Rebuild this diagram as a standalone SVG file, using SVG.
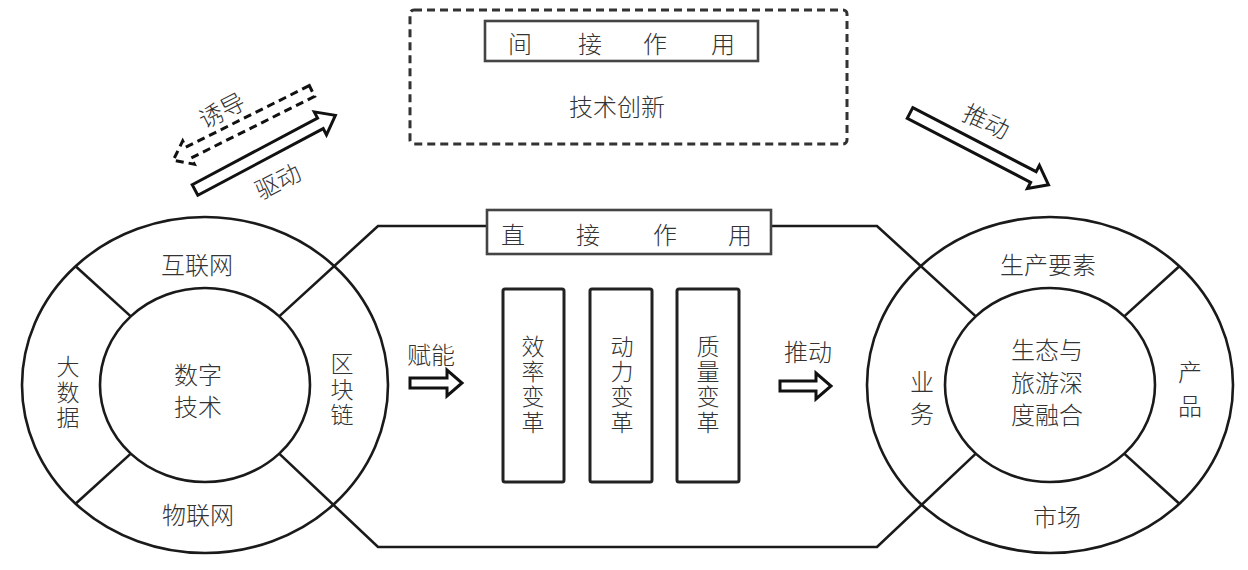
<svg xmlns="http://www.w3.org/2000/svg" width="1248" height="570" viewBox="0 0 1248 570">
<style>
  text { font-family: "Noto Sans CJK SC", "Noto Sans", sans-serif; font-size: 24px; fill: #333; text-anchor: middle; dominant-baseline: central; font-weight: 300; }
  .v { font-size: 23px; writing-mode: vertical-rl; text-orientation: upright; letter-spacing: 2.3px; }
  .ln { fill: none; stroke: #1a1a1a; stroke-width: 2.6; }
  .box { fill: #fff; stroke: #222; stroke-width: 3; }
  .lbl { fill: #fff; stroke: #444; stroke-width: 2.6; }
  .arr { fill: #fff; stroke: #111; stroke-width: 3; stroke-linejoin: miter; }
  .darr { fill: #fff; stroke: #111; stroke-width: 3; stroke-dasharray: 8 5; }
</style>
<rect width="1248" height="570" fill="#fff"/>

<g id="connectors">
  <path class="ln" d="M279.2,316.4 L378,226 L877,226 L975.8,316.4"/>
  <path class="ln" d="M279.2,453.6 L378,547 L877,547 L975.8,453.6"/>
  <polygon class="arr" points="410,378 447,378 447,370 462,383 447,396 447,388 410,388"/>
  <polygon class="arr" points="780,381 816,381 816,373 831,386 816,399 816,391 780,391"/>
  <g transform="translate(195,190) rotate(-28)">
    <polygon class="arr" points="0,-6 142,-6 142,-13 159,0 142,13 142,6 0,6"/>
  </g>
  <g transform="translate(312,91) rotate(-26.5)">
    <polygon class="darr" points="0,-6 -138,-6 -138,-13 -155,0 -138,13 -138,6 0,6"/>
  </g>
  <g transform="translate(910,113) rotate(27.4)">
    <polygon class="arr" points="0,-6 139,-6 139,-13 156,0 139,13 139,6 0,6"/>
  </g>
  <text transform="translate(221,109) rotate(-27)">诱导</text>
  <text transform="translate(277,180) rotate(-27)">驱动</text>
  <text transform="translate(987,120) rotate(25)">推动</text>
  <text x="431" y="353">赋能</text>
  <text x="808" y="350">推动</text>
</g>

<g id="indirect">
  <rect x="410" y="10" width="437" height="134" rx="4" fill="none" stroke="#333" stroke-width="3" stroke-dasharray="8 5"/>
  <rect class="lbl" x="485" y="21" width="273" height="40"/>
  <text><tspan x="520" y="42">间</tspan><tspan x="590" y="42">接</tspan><tspan x="655" y="42">作</tspan><tspan x="723" y="42">用</tspan></text>
  <text x="617" y="105">技术创新</text>
</g>

<g id="direct">
  <rect class="lbl" x="487" y="210" width="284" height="44"/>
  <text><tspan x="513" y="233">直</tspan><tspan x="588" y="233">接</tspan><tspan x="665" y="233">作</tspan><tspan x="740" y="233">用</tspan></text>
</g>

<g id="left-circle">
  <ellipse class="ln" cx="205" cy="385" rx="183" ry="168"/>
  <ellipse class="ln" cx="205" cy="385" rx="105" ry="97"/>
  <line class="ln" x1="75.6" y1="266.2" x2="130.8" y2="316.4"/>
  <line class="ln" x1="75.6" y1="503.8" x2="130.8" y2="453.6"/>
  <text x="197" y="263">互联网</text>
  <text x="198" y="513">物联网</text>
  <text><tspan x="198" y="373">数字</tspan><tspan x="198" y="405">技术</tspan></text>
  <text class="v" x="68" y="393">大数据</text>
  <text class="v" x="342" y="390">区块链</text>
</g>

<g id="changes">
  <rect class="box" x="503" y="289" width="61" height="193" rx="2"/>
  <rect class="box" x="590" y="289" width="62" height="193" rx="2"/>
  <rect class="box" x="677" y="289" width="62" height="193" rx="2"/>
  <text class="v" x="533" y="385">效率变革</text>
  <text class="v" x="622" y="385">动力变革</text>
  <text class="v" x="708" y="385">质量变革</text>
</g>

<g id="right-circle">
  <ellipse class="ln" cx="1050" cy="385" rx="183" ry="168"/>
  <ellipse class="ln" cx="1050" cy="385" rx="105" ry="97"/>
  <line class="ln" x1="1179.4" y1="266.2" x2="1124.2" y2="316.4"/>
  <line class="ln" x1="1179.4" y1="503.8" x2="1124.2" y2="453.6"/>
  <text x="1048" y="263">生产要素</text>
  <text x="1057" y="515">市场</text>
  <text><tspan x="1047" y="348">生态与</tspan><tspan x="1047" y="381">旅游深</tspan><tspan x="1047" y="413">度融合</tspan></text>
  <text><tspan x="922" y="380">业</tspan><tspan x="922" y="412">务</tspan></text>
  <text><tspan x="1190" y="370">产</tspan><tspan x="1190" y="404">品</tspan></text>
</g>
</svg>
